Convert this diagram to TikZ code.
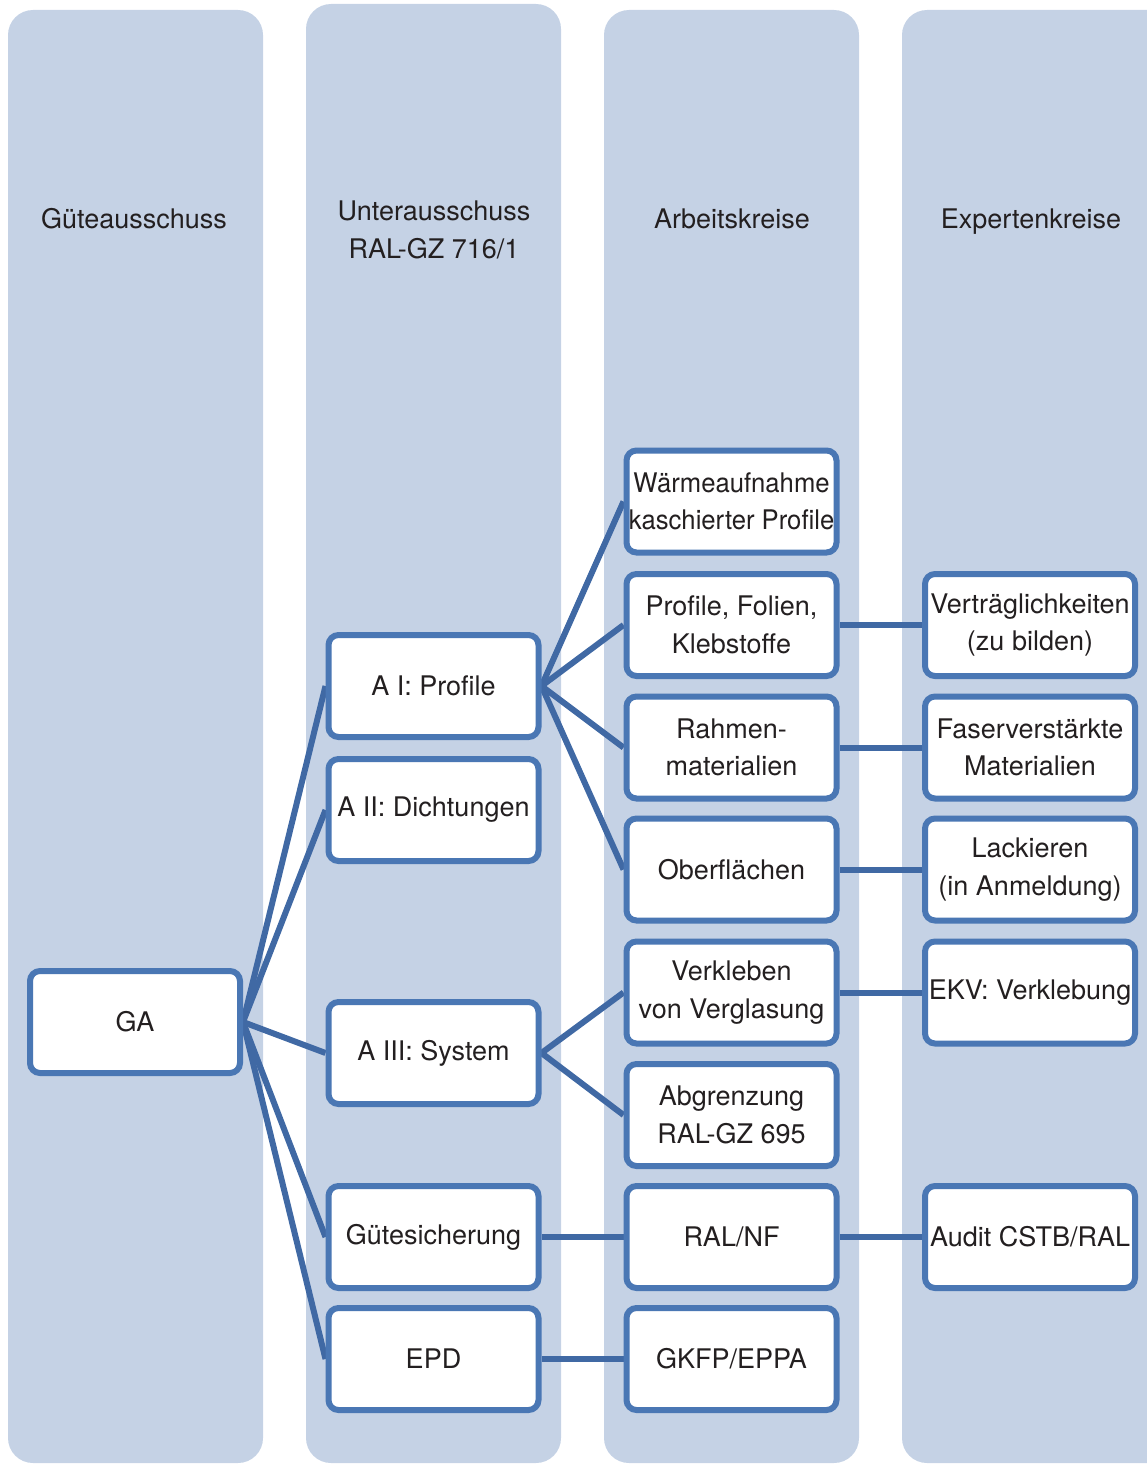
\documentclass[tikz,border=0pt]{standalone}
\usepackage{fontspec}
\setmainfont{TeX Gyre Heros}
\usetikzlibrary{backgrounds}
\definecolor{colbg}{HTML}{C5D2E5}
\definecolor{boxblue}{HTML}{4A77B4}
\definecolor{lineblue}{HTML}{4069A4}
\definecolor{txt}{HTML}{231F20}
\begin{document}
\begin{tikzpicture}[x=1pt,y=-1pt,
  box/.style={draw=boxblue, line width=6pt, fill=white, rounded corners=10pt,
    minimum width=210pt, minimum height=102pt, inner sep=0pt, align=center,
    font=\fontsize{27}{37.5}\selectfont, text=txt},
  hdr/.style={align=center, font=\fontsize{27}{38}\selectfont, text=txt, inner sep=0pt, anchor=base},
  conn/.style={draw=lineblue, line width=6pt},
  colfill/.style={fill=colbg, rounded corners=25pt}]
\clip (0,0) rectangle (1147,1464);
\begin{pgfonlayer}{background}
\fill[colfill] (8,10) rectangle (263,1463);
\fill[colfill] (306,4) rectangle (561,1463);
\fill[colfill] (604,10) rectangle (859,1463);
\fill[colfill] (902,10) rectangle (1180,1463);
\end{pgfonlayer}
% headers
\node[hdr] (h1) at (134,228) {Güteausschuss};
\node[hdr] (h2) at (434,258) {Unterausschuss\\RAL-GZ 716/1};
\node[hdr] (h3) at (732,228) {Arbeitskreise};
\node[hdr] (h4) at (1031,228) {Expertenkreise};
% column 1
\node[box] (ga) at (135,1022) {GA};
% column 2
\node[box] (a1) at (433.5,686) {A I: Profile};
\node[box] (a2) at (433.5,810) {A II: Dichtungen};
\node[box] (a3) at (433.5,1053) {A III: System};
\node[box] (gs) at (433.5,1237) {Gütesicherung};
\node[box] (epd) at (433.5,1359) {EPD};
% column 3
\node[box] (wa) at (731.5,501.5) {\scalebox{0.95}[1]{Wärmeaufnahme}\\\scalebox{0.95}[1]{kaschierter Profile}};
\node[box] (pf) at (731.5,625) {Profile, Folien,\\Klebstoffe};
\node[box] (rm) at (731.5,747.5) {Rahmen-\\materialien};
\node[box] (ob) at (731.5,869.5) {Oberflächen};
\node[box] (vk) at (731.5,992.5) {Verkleben\\von Verglasung};
\node[box] (ab) at (731.5,1115) {Abgrenzung\\RAL-GZ 695};
\node[box] (ral) at (731.5,1237) {RAL/NF};
\node[box] (gk) at (731.5,1359) {GKFP/EPPA};
% column 4
\node[box] (ve) at (1030,625) {Verträglichkeiten\\(zu bilden)};
\node[box] (fa) at (1030,747.5) {Faserverstärkte\\Materialien};
\node[box] (la) at (1030,869.5) {Lackieren\\(in Anmeldung)};
\node[box] (ek) at (1030,992.5) {EKV: Verklebung};
\node[box] (au) at (1030,1237) {Audit CSTB/RAL};
% connectors
\begin{pgfonlayer}{background}
\foreach \t in {a1,a2,a3,gs,epd} \draw[conn] (ga.east) -- (\t.west);
\foreach \t in {wa,pf,rm,ob} \draw[conn] (a1.east) -- (\t.west);
\foreach \t in {vk,ab} \draw[conn] (a3.east) -- (\t.west);
\draw[conn] (gs.east) -- (ral.west);
\draw[conn] (epd.east) -- (gk.west);
\draw[conn] (pf.east) -- (ve.west);
\draw[conn] (rm.east) -- (fa.west);
\draw[conn] (ob.east) -- (la.west);
\draw[conn] (vk.east) -- (ek.west);
\draw[conn] (ral.east) -- (au.west);
\end{pgfonlayer}
\end{tikzpicture}
\end{document}
